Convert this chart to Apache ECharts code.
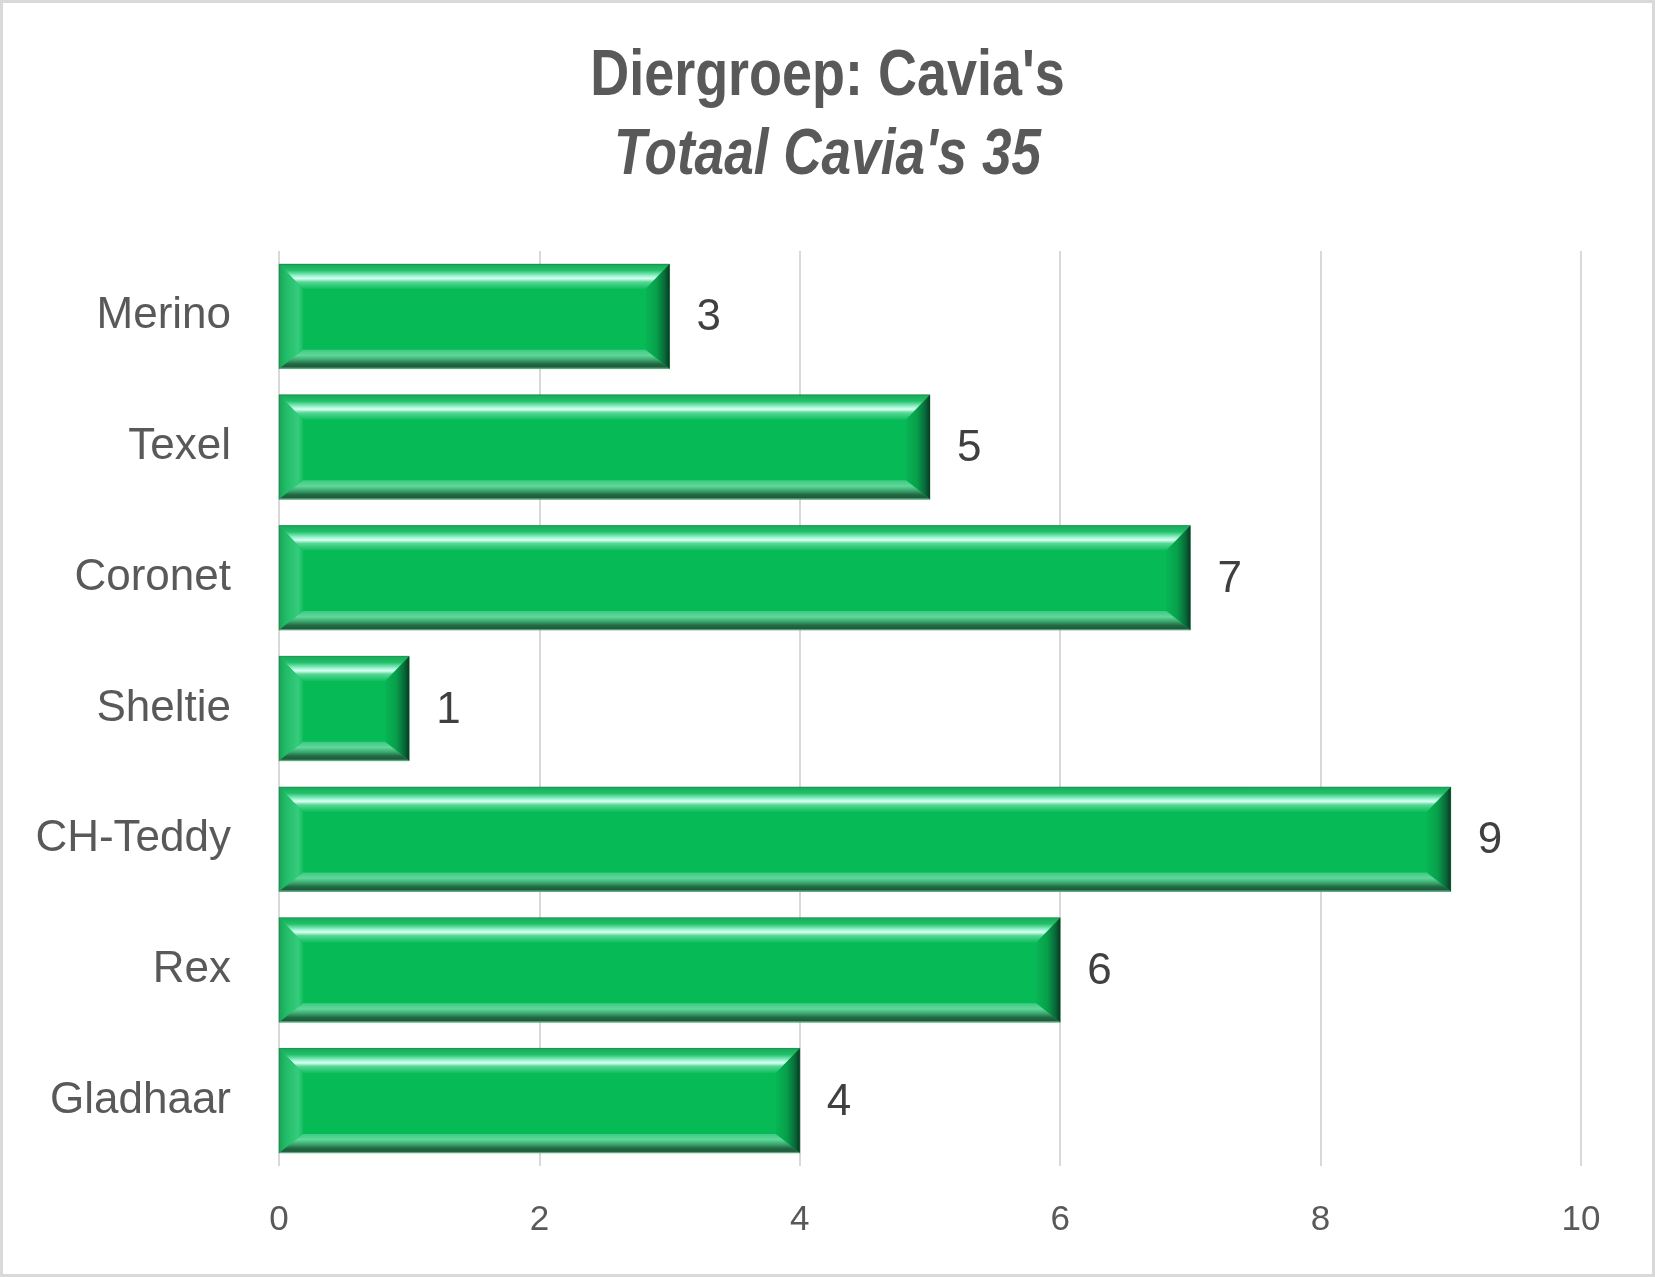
<!DOCTYPE html>
<html>
<head>
<meta charset="utf-8">
<script src="https://cdn.jsdelivr.net/npm/echarts@6/dist/echarts.min.js"></script>
<style>
  html, body { margin: 0; padding: 0; background: #ffffff; }
  #chart { width: 1655px; height: 1277px; }
</style>
</head>
<body>
<div id="chart"></div>
<script>
// Diergroep: Cavia's - aantallen per ras
const categories = ['Merino', 'Texel', 'Coronet', 'Sheltie', 'CH-Teddy', 'Rex', 'Gladhaar'];
const values = [3, 5, 7, 1, 9, 6, 4];
const xTicks = [0, 2, 4, 6, 8, 10];

const titleText = "Diergroep: Cavia's";
const subText = "Totaal Cavia's 35";

const chart = echarts.init(document.getElementById('chart'), null, { renderer: 'canvas' });

const lg = (x, y, x2, y2, stops) => new echarts.graphic.LinearGradient(x, y, x2, y2, stops);

// beveled bar, coordinates from the axes
function renderBevelBar(params, api) {
    const v = api.value(0);
    const c = api.value(1);
    const p0 = api.coord([0, c]);
    const p1 = api.coord([v, c]);
    const h = api.size([0, 1])[1] * 0.8;
    const x0 = p0[0], x1 = p1[0];
    const y0 = p0[1] - h / 2, y1 = p0[1] + h / 2;
    const bx = 24, bt = 25, bb = 19;

    return {
        type: 'group',
        children: [
            { // front face
                type: 'rect',
                shape: { x: x0, y: y0, width: x1 - x0, height: h },
                style: { fill: '#06BA56' }
            },
            { // top bevel
                type: 'polygon',
                shape: { points: [[x0, y0], [x1, y0], [x1 - bx, y0 + bt], [x0 + bx, y0 + bt]] },
                style: {
                    fill: lg(0, 0, 0, 1, [
                        { offset: 0, color: '#17a957' },
                        { offset: 0.25, color: '#22c06a' },
                        { offset: 0.48, color: '#9cf5d2' },
                        { offset: 0.58, color: '#dafff4' },
                        { offset: 0.72, color: '#55d894' },
                        { offset: 1, color: '#0ebd5d' }
                    ])
                }
            },
            { // left bevel
                type: 'polygon',
                shape: { points: [[x0, y0], [x0 + bx, y0 + bt], [x0 + bx, y1 - bb], [x0, y1]] },
                style: {
                    fill: lg(0, 0, 1, 0, [
                        { offset: 0, color: '#17a655' },
                        { offset: 0.3, color: '#22bd68' },
                        { offset: 0.8, color: '#36cc7d' },
                        { offset: 1, color: '#14bd60' }
                    ])
                }
            },
            { // right bevel
                type: 'polygon',
                shape: { points: [[x1, y0], [x1, y1], [x1 - bx, y1 - bb], [x1 - bx, y0 + bt]] },
                style: {
                    fill: lg(0, 0, 1, 0, [
                        { offset: 0, color: '#08b555' },
                        { offset: 0.45, color: '#07a04a' },
                        { offset: 0.8, color: '#08683a' },
                        { offset: 1, color: '#0a3820' }
                    ])
                }
            },
            { // bottom bevel
                type: 'polygon',
                shape: { points: [[x0, y1], [x0 + bx, y1 - bb], [x1 - bx, y1 - bb], [x1, y1]] },
                style: {
                    fill: lg(0, 0, 0, 1, [
                        { offset: 0, color: '#3ec983' },
                        { offset: 0.3, color: '#60d89a' },
                        { offset: 0.55, color: '#3aa56d' },
                        { offset: 0.75, color: '#226a44' },
                        { offset: 0.92, color: '#1d5a3a' },
                        { offset: 1, color: '#8fdcb6' }
                    ])
                }
            },
            { // outline
                type: 'rect',
                shape: { x: x0, y: y0, width: x1 - x0, height: h },
                style: { fill: 'none', stroke: 'rgba(10,90,45,0.35)', lineWidth: 1 }
            },
            { // value label
                type: 'text',
                style: {
                    text: String(v),
                    x: x1 + 27,
                    y: p0[1] + 2,
                    verticalAlign: 'middle',
                    align: 'left',
                    fill: '#404040',
                    fontSize: 44,
                    fontFamily: 'Liberation Sans, Arial, sans-serif'
                }
            }
        ]
    };
}

const option = {
    backgroundColor: '#ffffff',
    animation: false,
    graphic: [
        {
            type: 'rect',
            shape: { x: 1.5, y: 1.5, width: 1652, height: 1274 },
            style: { fill: 'none', stroke: '#d9d9d9', lineWidth: 3 },
            silent: true
        },
        // titel: smal gezet zoals in het origineel
        {
            type: 'text',
            x: 827.5,
            y: 77,
            scaleX: 0.83,
            style: {
                text: titleText,
                x: 0,
                y: 0,
                align: 'center',
                verticalAlign: 'middle',
                fill: '#595959',
                fontSize: 65,
                fontWeight: 'bold',
                fontFamily: '"Liberation Sans", Arial, sans-serif'
            }
        },
        {
            type: 'text',
            x: 827.5,
            y: 156,
            scaleX: 0.83,
            style: {
                text: subText,
                x: 0,
                y: 0,
                align: 'center',
                verticalAlign: 'middle',
                fill: '#595959',
                fontSize: 64,
                fontWeight: 'bold',
                fontStyle: 'italic',
                fontFamily: '"Liberation Sans", Arial, sans-serif'
            }
        }
    ],
    grid: { left: 279, right: 74, top: 251, bottom: 111, containLabel: false },
    xAxis: {
        type: 'value',
        min: 0,
        max: 10,
        interval: 2,
        axisLine: { show: false },
        axisTick: { show: false },
        splitLine: { show: true, lineStyle: { color: '#d9d9d9', width: 2 } },
        axisLabel: {
            color: '#595959',
            fontSize: 35,
            margin: 37,
            fontFamily: 'Liberation Sans, Arial, sans-serif',
            formatter: (val) => xTicks.includes(val) ? String(val) : ''
        }
    },
    yAxis: {
        type: 'category',
        data: categories,
        inverse: true,
        axisLine: { show: false },
        axisTick: { show: false },
        splitLine: { show: false },
        axisLabel: {
            color: '#595959',
            fontSize: 44,
            margin: 48,
            fontFamily: 'Liberation Sans, Arial, sans-serif'
        }
    },
    series: [
        {
            type: 'custom',
            renderItem: renderBevelBar,
            encode: { x: 0, y: 1 },
            data: values.map((v, i) => [v, i])
        }
    ]
};

chart.setOption(option);
window.addEventListener('resize', () => chart.resize());
</script>
</body>
</html>
